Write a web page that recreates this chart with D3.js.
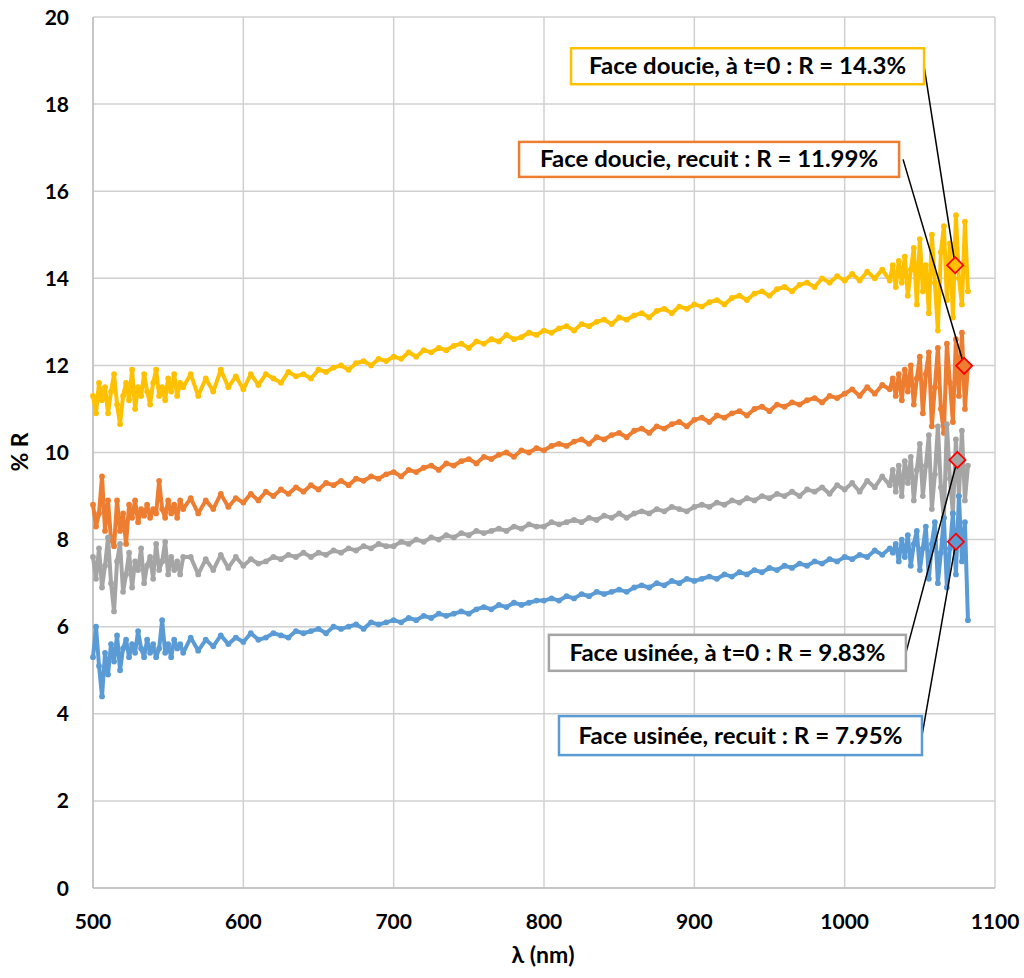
<!DOCTYPE html>
<html><head><meta charset="utf-8">
<script src="https://cdn.jsdelivr.net/npm/d3@7"></script>
<style>
html,body{margin:0;padding:0;background:#fff;}
svg{display:block;font-family:Lato,"Open Sans",sans-serif;}
</style></head>
<body><svg id="chart" width="1024" height="978"></svg>
<script>
// wavelengths (nm) — denser sampling at both noisy ends
const wavelengths = [
500,502,504,506,508,510,512,514,516,518,520,522,524,526,528,530,532,534,536,538,540,542,544,546,548,550,552,554,556,558,560,
565,570,575,580,585,590,595,600,605,610,
615,620,625,630,635,640,645,650,655,660,
665,670,675,680,685,690,695,700,705,710,
715,720,725,730,735,740,745,750,755,760,
765,770,775,780,785,790,795,800,805,810,
815,820,825,830,835,840,845,850,855,860,
865,870,875,880,885,890,895,900,905,910,
915,920,925,930,935,940,945,950,955,960,
965,970,975,980,985,990,995,1000,1005,1010,
1015,1020,1025,1030,
1032,1034,1036,1038,1040,1042,1044,1046,1048,1050,1052,1054,1056,1058,1060,1062,1064,1066,1068,1070,1072,1074,1076,1078,1080,1082];

const seriesNames = ["Face doucie, à t=0","Face doucie, recuit","Face usinée, à t=0","Face usinée, recuit"];
const seriesColors = ["#FFC000","#ED7D31","#A5A5A5","#5B9BD5"];

const doucieT0 = [
11.3,10.9,11.6,11.2,11.5,10.9,11.4,11.8,11.1,10.65,11.3,11.6,11.2,11.9,11.0,11.5,11.3,11.8,11.4,11.1,11.6,11.9,11.3,11.5,11.2,11.7,11.4,11.8,11.3,11.6,11.5,
11.8,11.3,11.7,11.4,11.9,11.5,11.75,11.45,11.8,11.55,
11.8,11.7,11.6,11.85,11.75,11.8,11.7,11.9,11.85,11.95,
12.0,11.9,12.05,12.1,12.0,12.15,12.1,12.2,12.15,12.3,
12.2,12.35,12.3,12.4,12.35,12.45,12.5,12.4,12.55,12.5,
12.6,12.55,12.7,12.6,12.65,12.75,12.7,12.8,12.75,12.85,
12.9,12.8,12.95,12.9,13.0,13.05,12.95,13.1,13.05,13.15,
13.2,13.1,13.25,13.3,13.2,13.35,13.3,13.4,13.35,13.45,
13.5,13.4,13.55,13.6,13.5,13.65,13.7,13.6,13.75,13.8,
13.7,13.85,13.9,13.8,14.0,13.9,14.05,13.95,14.1,13.95,
14.15,14.0,14.2,13.95,
14.3,13.8,14.4,13.9,14.5,13.6,14.2,14.7,13.4,14.9,13.7,14.3,13.2,15.0,13.9,12.8,14.6,15.2,13.5,14.8,13.1,15.45,14.0,13.4,15.3,13.7];

const doucieRecuit = [
8.8,8.3,8.6,9.45,8.2,8.9,8.0,7.85,8.9,8.2,8.6,7.9,8.8,8.5,8.9,8.4,8.7,8.55,8.8,8.5,8.7,8.6,9.35,8.7,8.5,8.9,8.6,8.8,8.5,8.9,8.7,
8.95,8.6,8.9,8.7,9.05,8.75,8.95,8.85,9.05,8.9,
9.1,9.0,9.15,9.05,9.2,9.1,9.25,9.15,9.3,9.25,
9.35,9.25,9.4,9.35,9.45,9.4,9.5,9.55,9.45,9.6,
9.55,9.65,9.7,9.6,9.75,9.7,9.8,9.85,9.75,9.9,
9.85,9.95,10.0,9.9,10.05,10.0,10.1,10.05,10.15,10.2,
10.15,10.25,10.3,10.2,10.35,10.3,10.4,10.45,10.35,10.5,
10.55,10.45,10.6,10.55,10.65,10.7,10.6,10.75,10.8,10.7,
10.85,10.8,10.9,10.95,10.85,11.0,11.05,10.95,11.1,11.05,
11.15,11.1,11.2,11.25,11.15,11.3,11.25,11.35,11.45,11.3,
11.5,11.35,11.55,11.45,
11.7,11.3,11.8,11.2,11.9,11.4,12.0,11.1,11.7,12.2,10.9,11.8,12.3,10.6,11.5,12.4,11.0,10.45,12.5,11.6,10.7,12.6,11.3,12.75,11.0,12.0];

const usineeT0 = [
7.6,7.1,7.8,6.9,7.4,8.05,7.0,6.35,7.5,7.9,6.8,7.2,7.7,6.9,7.5,7.3,7.8,7.0,7.4,7.6,7.1,7.9,7.3,7.5,7.95,7.2,7.6,7.3,7.5,7.2,7.6,
7.6,7.2,7.55,7.3,7.65,7.35,7.6,7.4,7.55,7.45,
7.5,7.6,7.55,7.65,7.6,7.7,7.6,7.7,7.65,7.75,
7.7,7.8,7.75,7.85,7.8,7.9,7.85,7.85,7.95,7.9,
8.0,7.95,8.05,8.0,8.1,8.05,8.15,8.1,8.2,8.15,
8.2,8.25,8.2,8.3,8.25,8.35,8.3,8.3,8.4,8.35,
8.4,8.45,8.4,8.5,8.45,8.55,8.5,8.6,8.5,8.6,
8.65,8.6,8.7,8.65,8.75,8.7,8.65,8.75,8.8,8.75,
8.85,8.8,8.9,8.85,8.95,8.9,9.0,8.95,9.05,9.0,
9.1,9.0,9.15,9.1,9.2,9.05,9.25,9.15,9.3,9.1,
9.35,9.2,9.45,9.25,
9.6,9.1,9.7,9.0,9.8,9.3,9.9,8.9,9.6,10.2,9.0,9.7,10.4,8.7,9.5,10.6,9.2,8.5,10.65,9.4,8.6,10.3,9.0,10.5,8.9,9.7];

const usineeRecuit = [
5.3,6.0,5.1,4.4,5.4,4.9,5.6,5.2,5.8,5.0,5.5,5.7,5.3,5.6,5.4,5.9,5.5,5.3,5.7,5.4,5.6,5.3,5.5,6.15,5.4,5.6,5.3,5.7,5.5,5.6,5.4,
5.75,5.45,5.7,5.55,5.8,5.6,5.75,5.65,5.85,5.7,
5.75,5.85,5.8,5.75,5.9,5.85,5.9,5.95,5.85,6.0,
5.95,6.0,6.05,5.95,6.1,6.05,6.1,6.15,6.1,6.2,
6.15,6.25,6.2,6.3,6.25,6.3,6.35,6.3,6.4,6.45,
6.4,6.5,6.45,6.55,6.5,6.55,6.6,6.6,6.65,6.6,
6.7,6.65,6.75,6.7,6.8,6.75,6.8,6.85,6.8,6.9,
6.95,6.9,7.0,6.95,7.05,7.0,7.1,7.05,7.1,7.15,
7.1,7.2,7.15,7.25,7.2,7.3,7.25,7.35,7.3,7.4,
7.35,7.45,7.4,7.5,7.45,7.55,7.5,7.6,7.55,7.65,
7.6,7.75,7.65,7.8,
7.7,7.9,7.5,8.0,7.6,8.1,7.4,7.9,8.2,7.3,7.8,8.3,7.1,7.9,8.4,7.0,7.7,8.5,6.9,7.8,8.6,7.2,9.0,7.5,8.4,6.15];

// annotated points (diamonds)
const markLambda = [1073.5,1079.5,1075,1074];
const markR = [14.3,11.99,9.83,7.95];
const markLabels = ["Face doucie, à t=0 : R = 14.3%","Face doucie, recuit : R = 11.99%","Face usinée, à t=0 : R = 9.83%","Face usinée, recuit : R = 7.95%"];

const xTicks = [500,600,700,800,900,1000,1100];
const yTicks = [0,2,4,6,8,10,12,14,16,18,20];

// layout (label boxes in data coordinates: centre λ, centre R; size in px)
const boxLayout = [
  {cx:935.4, cy:18.87, w:353, h:36, tw:317, lead:0},
  {cx:909.8, cy:16.73, w:380, h:35, tw:338, lead:4},
  {cx:922.0, cy:5.40,  w:357, h:36, tw:316, lead:0},
  {cx:930.7, cy:3.50,  w:363, h:39, tw:324, lead:0}
];

const allSeries = [doucieT0, doucieRecuit, usineeT0, usineeRecuit];

const svg = d3.select("#chart");
const x = d3.scaleLinear().domain([500,1100]).range([93,995]);
const y = d3.scaleLinear().domain([0,20]).range([888,17]);

// gridlines
const grid = svg.append("g");
grid.selectAll("line.v").data(xTicks).join("line")
  .attr("x1",d=>x(d)).attr("x2",d=>x(d)).attr("y1",y(0)).attr("y2",y(20))
  .attr("stroke","#D0D0D0").attr("stroke-width",1.5);
grid.selectAll("line.h").data(yTicks).join("line")
  .attr("x1",x(500)).attr("x2",x(1100)).attr("y1",d=>y(d)).attr("y2",d=>y(d))
  .attr("stroke","#D0D0D0").attr("stroke-width",1.5);
svg.append("line").attr("x1",x(500)).attr("x2",x(500)).attr("y1",y(0)).attr("y2",y(20))
  .attr("stroke","#BFBFBF").attr("stroke-width",1.5);
svg.append("line").attr("x1",x(500)).attr("x2",x(1100)).attr("y1",y(0)).attr("y2",y(0))
  .attr("stroke","#BFBFBF").attr("stroke-width",1.5);

// tick labels
svg.append("g").selectAll("text").data(xTicks).join("text")
  .attr("x",d=>x(d)).attr("y",929).attr("text-anchor","middle")
  .attr("font-size",21).attr("font-weight","bold").attr("fill","#000").text(d=>d);
svg.append("g").selectAll("text").data(yTicks).join("text")
  .attr("x",69).attr("y",d=>y(d)+7.5).attr("text-anchor","end")
  .attr("font-size",21).attr("font-weight","bold").attr("fill","#000").text(d=>d);

// axis titles
svg.append("text").attr("x",543).attr("y",963).attr("text-anchor","middle")
  .attr("font-size",23).attr("font-weight","bold").text("λ (nm)");
svg.append("text").attr("transform","translate(28,452) rotate(-90)").attr("text-anchor","middle")
  .attr("font-size",23).attr("font-weight","bold").text("% R");

// series
const line = d3.line().x((d,i)=>x(wavelengths[i])).y(d=>y(d));
const plot = svg.append("g");
allSeries.forEach((s,k)=>{
  const g = plot.append("g");
  g.append("path").datum(s).attr("d",line).attr("fill","none")
    .attr("stroke",seriesColors[k]).attr("stroke-width",4).attr("stroke-linejoin","round");
  g.selectAll("circle").data(s).join("circle")
    .attr("cx",(d,i)=>x(wavelengths[i])).attr("cy",d=>y(d)).attr("r",2.9)
    .attr("fill",seriesColors[k]);
});

// leader lines
const ann = svg.append("g");
boxLayout.forEach((b,k)=>{
  const bx = x(b.cx), by = y(b.cy);
  ann.append("line")
    .attr("x1",bx+b.w/2+b.lead).attr("y1",by)
    .attr("x2",x(markLambda[k])).attr("y2",y(markR[k]))
    .attr("stroke","#000").attr("stroke-width",1.5);
});
// diamonds
ann.selectAll("path.dia").data(markR).join("path")
  .attr("d",d3.symbol(d3.symbolDiamond2, 165))
  .attr("transform",(d,i)=>`translate(${x(markLambda[i])},${y(d)})`)
  .attr("fill",(d,i)=>seriesColors[i]).attr("stroke","#FF0000").attr("stroke-width",1.8);

// label boxes
boxLayout.forEach((b,k)=>{
  const bx = x(b.cx), by = y(b.cy);
  ann.append("rect").attr("x",bx-b.w/2).attr("y",by-b.h/2).attr("width",b.w).attr("height",b.h)
    .attr("fill","#fff").attr("stroke",seriesColors[k]).attr("stroke-width",2.5);
  ann.append("text").attr("x",bx).attr("y",by+8).attr("text-anchor","middle")
    .attr("font-size",22).attr("font-weight","bold").attr("fill","#000")
    .attr("textLength",b.tw).attr("lengthAdjust","spacingAndGlyphs")
    .text(markLabels[k]);
});
</script></body></html>
